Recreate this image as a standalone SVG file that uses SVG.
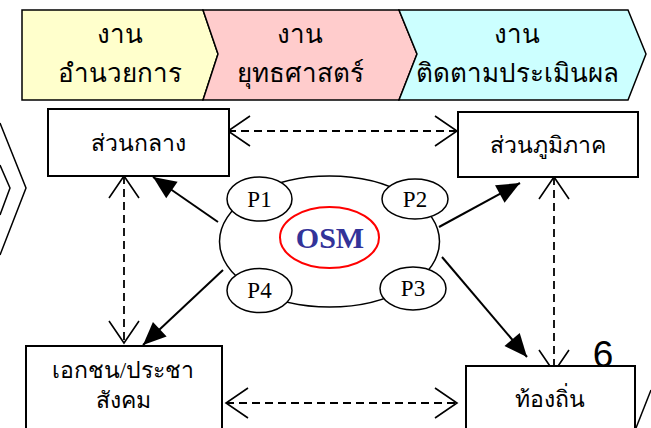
<svg xmlns="http://www.w3.org/2000/svg" width="651" height="428" viewBox="0 0 651 428">
<defs>
<style>
.bn{stroke:#000;stroke-width:1.5}
.bt{font-family:"Noto Sans","DejaVu Sans",sans-serif;font-size:26px;text-anchor:middle;fill:#000}
.box{fill:#fff;stroke:#000;stroke-width:2}
.nt{font-family:"Liberation Serif","DejaVu Serif",serif;font-size:23px;text-anchor:middle;fill:#000}
.pe{fill:#fff;stroke:#000;stroke-width:1.5}
.pt{font-family:"Liberation Serif",serif;font-size:23px;text-anchor:middle;fill:#000}
.sol{stroke:#000;stroke-width:2;fill:none;marker-end:url(#fh)}
.dash{stroke:#000;stroke-width:1.8;fill:none;stroke-dasharray:8 5;marker-start:url(#oh);marker-end:url(#oh)}
</style>
<marker id="fh" markerUnits="userSpaceOnUse" viewBox="-24 -11 25 22" refX="0" refY="0" markerWidth="25" markerHeight="22" orient="auto">
<path d="M-23,-10 L0,0 L-23,10 Z" fill="#000"/>
</marker>
<marker id="oh" markerUnits="userSpaceOnUse" viewBox="-24 -17 26 34" refX="0" refY="0" markerWidth="26" markerHeight="34" orient="auto-start-reverse">
<path d="M-22,-15 L0,0 L-22,15" fill="none" stroke="#000" stroke-width="1.6"/>
</marker>
</defs>
<g id="banner">
<polygon class="bn" fill="#FFFFCC" points="22,10 203,10 218,54 203,100 22,100"/>
<polygon class="bn" fill="#FFCCCC" points="203,10 399,10 417,54 399,100 203,100 218,54"/>
<polygon class="bn" fill="#CCFFFF" points="399,10 628,10 646,54 628,100 399,100 417,54"/>
<text class="bt" x="120" y="43">งาน</text>
<text class="bt" x="120" y="82">อำนวยการ</text>
<text class="bt" x="300" y="43">งาน</text>
<text class="bt" x="300" y="82">ยุทธศาสตร์</text>
<text class="bt" x="517" y="43">งาน</text>
<text class="bt" x="517" y="82">ติดตามประเมินผล</text>
</g>
<g id="edge-shapes" fill="none" stroke="#000" stroke-width="1.5">
<polyline points="0,123 26,188 0,255"/>
<polyline points="0,165 10,188 0,215"/>
<line x1="651" y1="390" x2="636" y2="428"/>
</g>
<g id="connectors">
<line class="dash" x1="228" y1="131" x2="457" y2="131"/>
<line class="dash" x1="124" y1="176" x2="124" y2="343"/>
<line class="dash" x1="554" y1="177" x2="554" y2="372"/>
<line class="dash" x1="226" y1="403" x2="457" y2="403"/>
<line class="sol" x1="218" y1="222" x2="153" y2="177"/>
<line class="sol" x1="223" y1="270" x2="143" y2="345"/>
<line class="sol" x1="439" y1="227" x2="520" y2="183"/>
<line class="sol" x1="442" y1="257" x2="527" y2="357"/>
</g>
<g id="node-central">
<rect class="box" x="48" y="109" width="181" height="67"/>
<text class="nt" x="138" y="151">ส่วนกลาง</text>
</g>
<g id="node-regional">
<rect class="box" x="458" y="112" width="180" height="65"/>
<text class="nt" x="548" y="153">ส่วนภูมิภาค</text>
</g>
<g id="node-private">
<rect class="box" x="26" y="346" width="196" height="90"/>
<text class="nt" x="123" y="378">เอกชน/ประชา</text>
<text class="nt" x="123" y="408">สังคม</text>
</g>
<g id="node-local">
<rect class="box" x="466" y="366" width="169" height="70"/>
<text class="nt" x="550" y="407">ท้องถิ่น</text>
</g>
<g id="node-osm">
<ellipse cx="329.5" cy="241.5" rx="110" ry="65.5" fill="#fff" stroke="#000" stroke-width="1.5"/>
<ellipse cx="329.5" cy="237.5" rx="49.5" ry="30.5" fill="#fff" stroke="#FF0000" stroke-width="2"/>
<text x="330" y="248" font-family="Liberation Serif,serif" font-weight="bold" font-size="30" text-anchor="middle" fill="#333399">OSM</text>
</g>
<g id="node-p1"><ellipse class="pe" cx="259.5" cy="199" rx="32.5" ry="22"/><text class="pt" x="259.5" y="207">P1</text></g>
<g id="node-p2"><ellipse class="pe" cx="415" cy="199" rx="33" ry="20"/><text class="pt" x="415" y="207">P2</text></g>
<g id="node-p3"><ellipse class="pe" cx="413" cy="288.5" rx="33" ry="21.5"/><text class="pt" x="413" y="296">P3</text></g>
<g id="node-p4"><ellipse class="pe" cx="259.5" cy="290.5" rx="32.5" ry="22"/><text class="pt" x="259.5" y="298">P4</text></g>
<text x="603" y="367" font-family="Liberation Sans,Arial,sans-serif" font-size="37" text-anchor="middle" fill="#000">6</text>
</svg>
